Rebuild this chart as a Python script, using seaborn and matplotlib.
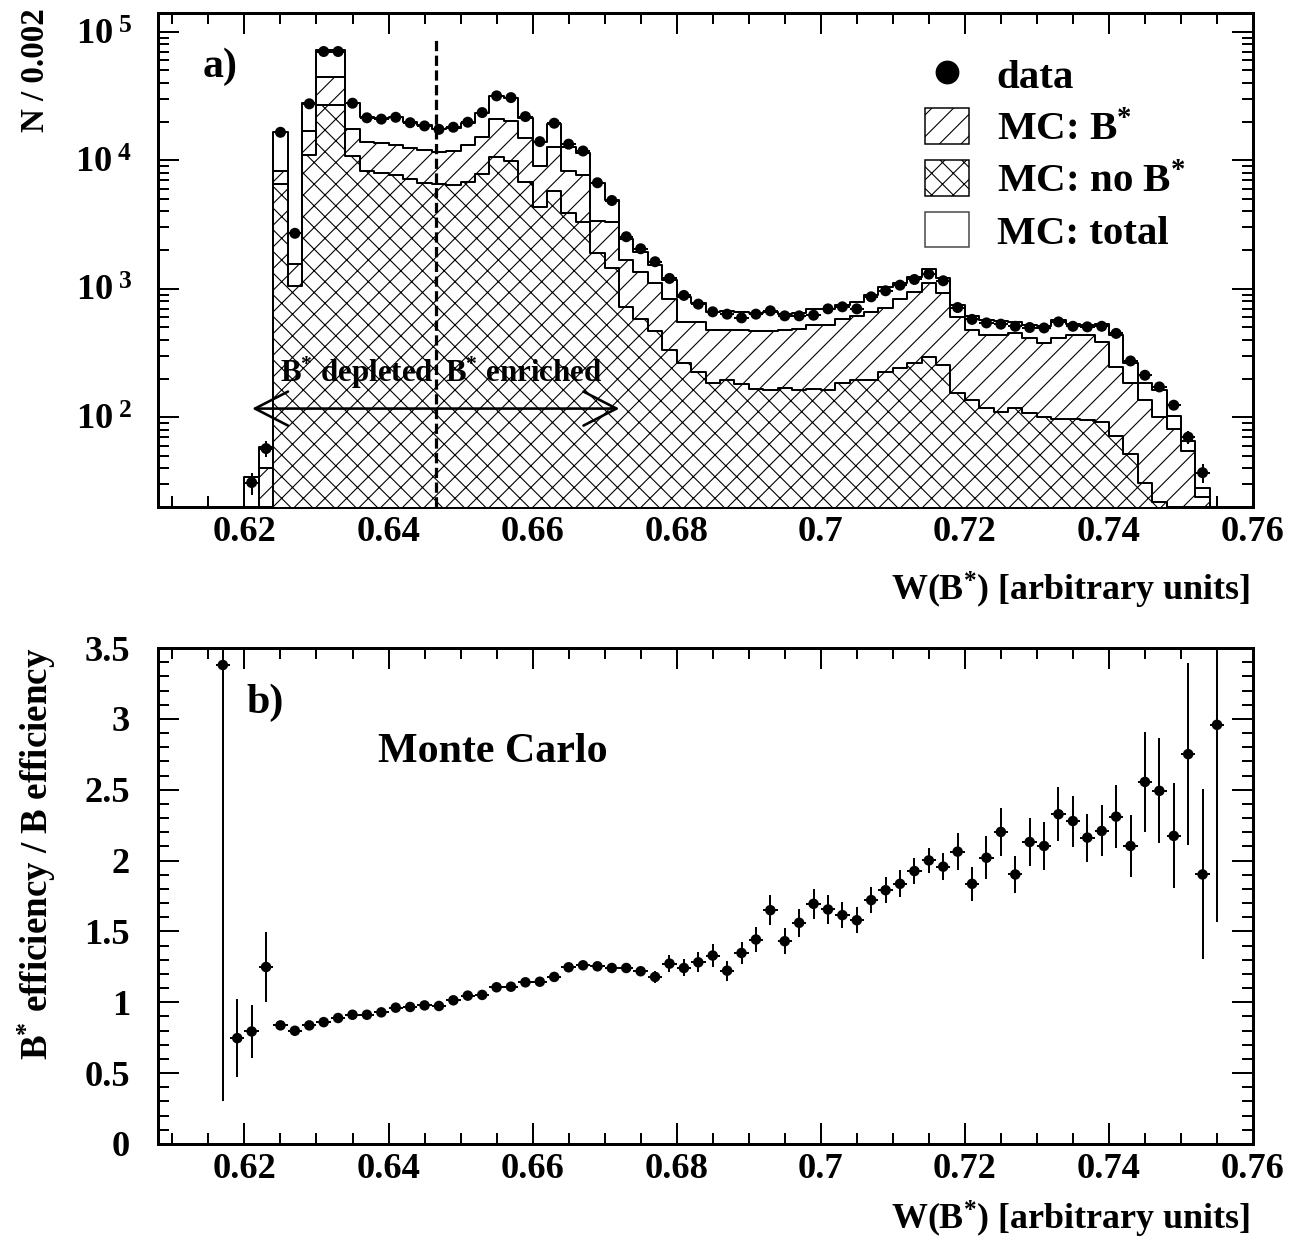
import numpy as np
import pandas as pd
import matplotlib
matplotlib.use("Agg")
import matplotlib.pyplot as plt
import seaborn as sns
from matplotlib.patches import Patch, FancyArrowPatch
from matplotlib.lines import Line2D
from matplotlib.ticker import FixedLocator, MultipleLocator, LogLocator, NullFormatter, FuncFormatter

# ---------------- data ----------------
hist_lo = 0.620      # lower edge of first histogram bin
hist_bin = 0.002     # bin width

mc_total = [34, 59, 16500, 2700, 28100, 71500, 71500, 27800, 21900, 21500,
            21700, 19800, 18800, 17400, 17800, 19400, 23200, 31700, 30700, 21500,
            13750, 19300, 12770, 11350, 6600, 4910, 2450, 1940, 1528, 1166,
            865, 768, 661, 673, 661, 649, 661, 641, 649, 692,
            701, 745, 790, 891, 1035, 1100, 1239, 1413, 1202, 745,
            611, 569, 560, 552, 520, 510, 569, 530, 520, 530,
            434, 262, 183, 162, 103, 65, 28]
mc_bstar = [17, 40, 8300, 1570, 17000, 44400, 44400, 17500, 13960, 13560,
            13150, 12400, 12000, 11670, 11890, 13150, 15280, 20900, 20240, 14830,
            9040, 12620, 8260, 7670, 3340, 3330, 1670, 1355, 1100, 839,
            552, 552, 475, 475, 475, 472, 472, 475, 490, 520,
            520, 586, 611, 661, 714, 826, 947, 1100, 918, 604,
            475, 434, 440, 449, 410, 378, 410, 434, 434, 385,
            247, 183, 136, 100, 81, 55, 24]
mc_nobstar = [16, 18, 6530, 1050, 10900, 27000, 27000, 10800, 8300, 7950,
              7670, 7110, 6690, 6530, 6400, 6810, 7820, 10540, 9930, 6810,
              4300, 5800, 3870, 3330, 1905, 1440, 723, 577, 470, 336,
              262, 225, 183, 196, 180, 167, 162, 169, 164, 167,
              164, 183, 194, 194, 225, 240, 262, 294, 257, 153,
              136, 117, 110, 117, 107, 100, 97, 96, 95, 92,
              72, 52, 31, 22, 15, 10, 4]
data_counts = [31, 57, 16500, 2700, 27500, 70200, 70200, 27800, 21400, 20900,
               21600, 19600, 18500, 17400, 18070, 19770, 23500, 31700, 30740, 21870,
               13960, 19420, 13340, 11800, 6680, 4860, 2540, 2047, 1622, 1202,
               887, 759, 661, 634, 593, 634, 673, 615, 615, 622,
               697, 723, 697, 865, 964, 1066, 1180, 1300, 1153, 714,
               577, 542, 530, 510, 499, 495, 552, 510, 505, 510,
               449, 274, 212, 172, 124, 70, 37]
data_err = [6, 8, 128, 52, 166, 265, 265, 167, 146, 145,
            147, 140, 136, 132, 134, 141, 153, 178, 175, 148,
            118, 139, 115, 109, 82, 70, 50, 45, 40, 35,
            30, 28, 26, 25, 24, 25, 26, 25, 25, 25,
            26, 27, 26, 29, 31, 33, 34, 36, 34, 27,
            24, 23, 23, 23, 22, 22, 23, 23, 22, 23,
            21, 17, 15, 13, 11, 8, 6]

ratio_lo = 0.616     # lower edge of first ratio bin
ratio_vals = [3.38, 0.747, 0.794, 1.249, 0.837, 0.799, 0.837, 0.860, 0.889, 0.912,
              0.912, 0.929, 0.962, 0.967, 0.978, 0.974, 1.014, 1.047, 1.052, 1.106,
              1.110, 1.141, 1.145, 1.179, 1.247, 1.261, 1.254, 1.242, 1.242, 1.219,
              1.179, 1.273, 1.242, 1.282, 1.330, 1.223, 1.348, 1.443, 1.650, 1.431,
              1.561, 1.695, 1.655, 1.615, 1.579, 1.721, 1.791, 1.836, 1.926, 2.001,
              1.957, 2.063, 1.836, 2.020, 2.202, 1.902, 2.131, 2.103, 2.327, 2.279,
              2.162, 2.209, 2.310, 2.103, 2.555, 2.492, 2.174, 2.751, 1.902, 2.958]
ratio_err = [3.08, 0.273, 0.19, 0.245, 0.015, 0.012, 0.015, 0.012, 0.012, 0.012,
             0.012, 0.012, 0.012, 0.012, 0.012, 0.012, 0.012, 0.012, 0.012, 0.012,
             0.012, 0.014, 0.015, 0.015, 0.015, 0.015, 0.015, 0.02, 0.025, 0.03,
             0.04, 0.06, 0.06, 0.07, 0.08, 0.07, 0.08, 0.09, 0.106, 0.09,
             0.097, 0.106, 0.10, 0.092, 0.09, 0.094, 0.092, 0.094, 0.092, 0.09,
             0.094, 0.13, 0.12, 0.15, 0.17, 0.13, 0.167, 0.167, 0.19, 0.18,
             0.17, 0.18, 0.22, 0.22, 0.35, 0.37, 0.37, 0.64, 0.60, 1.39]

legend_labels = ["data", "MC: B$^{*}$", "MC: no B$^{*}$", "MC: total"]
x_ticks = [0.62, 0.64, 0.66, 0.68, 0.70, 0.72, 0.74, 0.76]
decades = [1e2, 1e3, 1e4, 1e5]
cut_value = 0.6466

# ---------------- style ----------------
W, H, DPI = 1295, 1240, 130


def pt(px):
    return px * 72.0 / DPI


sns.set_theme(style="white")
plt.rcParams.update({
    "font.family": ["Liberation Serif", "DejaVu Serif"],
    "font.weight": "bold",
    "mathtext.fontset": "custom",
    "mathtext.rm": "Liberation Serif:bold",
    "mathtext.bf": "Liberation Serif:bold",
    "mathtext.it": "Liberation Serif:italic:bold",
    "mathtext.default": "bf",
    "hatch.linewidth": pt(1.1),
    "hatch.color": "black",
    "axes.linewidth": pt(3),
    "axes.edgecolor": "black",
    "text.color": "black",
    "xtick.color": "black",
    "ytick.color": "black",
    "xtick.bottom": True,
    "xtick.top": True,
    "ytick.left": True,
    "ytick.right": True,
})

fig = plt.figure(figsize=(W / DPI, H / DPI), dpi=DPI)
fig.patch.set_facecolor("white")

n_hist = len(mc_total)
edges = [round(hist_lo + hist_bin * k, 4) for k in range(n_hist + 1)]
centers = [round(hist_lo + hist_bin * (k + 0.5), 4) for k in range(n_hist)]
df = pd.DataFrame({"w": centers, "total": mc_total, "bstar": mc_bstar,
                   "nob": mc_nobstar, "data": data_counts, "err": data_err})

n_ratio = len(ratio_vals)
rcenters = [round(ratio_lo + hist_bin * (k + 0.5), 4) for k in range(n_ratio)]
rdf = pd.DataFrame({"w": rcenters, "r": ratio_vals, "e": ratio_err})

tick_fs = pt(36.5)


def style_axis(ax):
    ax.set_xlim(0.608, 0.76)
    ax.xaxis.set_major_locator(FixedLocator(x_ticks))
    ax.xaxis.set_minor_locator(MultipleLocator(0.005))
    ax.xaxis.set_major_formatter(FuncFormatter(lambda v, p: f"{v:g}"))
    ax.tick_params(which="both", direction="in", top=True, right=True,
                   bottom=True, left=True,
                   width=pt(2), labelsize=tick_fs, colors="black")
    ax.tick_params(which="major", length=pt(21))
    ax.tick_params(which="minor", length=pt(11))
    ax.tick_params(axis="x", which="major", pad=pt(9))
    ax.tick_params(axis="y", which="major", pad=pt(28))
    for lab in ax.get_xticklabels() + ax.get_yticklabels():
        lab.set_fontweight("bold")
    for s in ax.spines.values():
        s.set_visible(True)
        s.set_linewidth(pt(3))
        s.set_color("black")


# ---------------- top panel ----------------
ax1 = fig.add_axes([158 / W, 1 - 507 / H, 1095 / W, 494 / H])
hist_kw = dict(x="w", bins=edges, element="step", fill=True, alpha=1,
               edgecolor="black", linewidth=pt(2), ax=ax1)
sns.histplot(data=df, weights="total", facecolor="white", zorder=1, **hist_kw)
sns.histplot(data=df, weights="bstar", facecolor="white", hatch="//", zorder=2, **hist_kw)
sns.histplot(data=df, weights="nob", facecolor="white", hatch="xx", zorder=3, **hist_kw)

ax1.errorbar(df["w"], df["data"], xerr=hist_bin / 2, yerr=df["err"], fmt="none",
             ecolor="black", elinewidth=pt(2), capsize=0, zorder=5)
sns.scatterplot(data=df, x="w", y="data", color="black", s=pt(11) ** 2,
                edgecolor="none", linewidth=0, zorder=6, ax=ax1, legend=False)

ax1.set_yscale("log")
ax1.set_ylim(20, 1.4e5)
style_axis(ax1)
ax1.yaxis.set_major_locator(FixedLocator(decades))
ax1.yaxis.set_major_formatter(FuncFormatter(lambda v, p: r"$10^{\;%d}$" % int(round(np.log10(v)))))
ax1.yaxis.set_minor_locator(LogLocator(base=10, subs=np.arange(2, 10)))
ax1.yaxis.set_minor_formatter(NullFormatter())
ax1.tick_params(axis="y", which="major", pad=pt(26))
ax1.set_xlabel("")
ax1.set_ylabel("")

# cut line
ax1.plot([cut_value, cut_value], [20, 9.1e4], color="black", lw=pt(3.2),
         linestyle=(0, (3.2, 1.4)), zorder=7)

# double arrow + labels
arrow = FancyArrowPatch(posA=(0.62107, 116.7), posB=(0.67204, 116.7),
                        arrowstyle=f"<->,head_length={pt(33):.2f},head_width={pt(17):.2f}",
                        mutation_scale=1, color="black", lw=pt(2.6),
                        shrinkA=0, shrinkB=0, transform=ax1.transData, zorder=8)
ax1.add_patch(arrow)
ann_fs = pt(31)
ax1.text(0.62498, 188, "B$^{*}$ depleted", fontsize=ann_fs, fontweight="bold",
         ha="left", va="baseline", zorder=9)
ax1.text(0.64782, 188, "B$^{*}$ enriched", fontsize=ann_fs, fontweight="bold",
         ha="left", va="baseline", zorder=9)

ax1.text(0.0411, 0.870, "a)", transform=ax1.transAxes, fontsize=pt(42),
         fontweight="bold", ha="left", va="baseline")

handles = [
    Line2D([], [], marker="o", color="black", linestyle="none", markersize=pt(22)),
    Patch(facecolor="white", edgecolor="black", hatch="//", linewidth=pt(1.5)),
    Patch(facecolor="white", edgecolor="black", hatch="xx", linewidth=pt(1.5)),
    Patch(facecolor="white", edgecolor="#444444", linewidth=pt(1.5)),
]
leg = ax1.legend(handles, legend_labels, loc="upper left", bbox_to_anchor=(0.7005, 0.912),
                 frameon=False, borderpad=0, borderaxespad=0,
                 prop={"family": "Liberation Serif", "weight": "bold", "size": pt(41)},
                 handlelength=1.07, handleheight=0.95, handletextpad=0.68,
                 labelspacing=0.27)
leg.set_zorder(10)

fig.text(35 / W, 1 - 8 / H, "N / 0.002", rotation=90, ha="center", va="top",
         fontsize=pt(33), fontweight="bold")
fig.text(1250 / W, 1 - 601 / H, "W(B$^{*}$) [arbitrary units]", ha="right",
         va="baseline", fontsize=pt(36), fontweight="bold")

# ---------------- bottom panel ----------------
ax2 = fig.add_axes([158 / W, 1 - 1144 / H, 1095 / W, 496 / H])
ax2.errorbar(rdf["w"], rdf["r"], xerr=hist_bin / 2, yerr=rdf["e"], fmt="none",
             ecolor="black", elinewidth=pt(2), capsize=0, zorder=3)
sns.scatterplot(data=rdf, x="w", y="r", color="black", s=pt(10.5) ** 2,
                edgecolor="none", linewidth=0, zorder=4, ax=ax2, legend=False)
ax2.set_ylim(0, 3.5)
style_axis(ax2)
ax2.yaxis.set_major_locator(MultipleLocator(0.5))
ax2.yaxis.set_minor_locator(MultipleLocator(0.1))
ax2.yaxis.set_major_formatter(FuncFormatter(lambda v, p: f"{v:g}"))
ax2.set_xlabel("")
ax2.set_ylabel("")

ax2.text(0.081, 0.8696, "b)", transform=ax2.transAxes, fontsize=pt(42),
         fontweight="bold", ha="left", va="baseline")
ax2.text(0.2006, 0.7708, "Monte Carlo", transform=ax2.transAxes, fontsize=pt(42),
         fontweight="bold", ha="left", va="baseline")

fig.text(37 / W, 1 - 648 / H, "B$^{*}$ efficiency / B efficiency", rotation=90,
         ha="center", va="top", fontsize=pt(37), fontweight="bold")
fig.text(1250 / W, 1 - 1230 / H, "W(B$^{*}$) [arbitrary units]", ha="right",
         va="baseline", fontsize=pt(36), fontweight="bold")

fig.savefig("out.png", dpi=DPI, facecolor="white")
